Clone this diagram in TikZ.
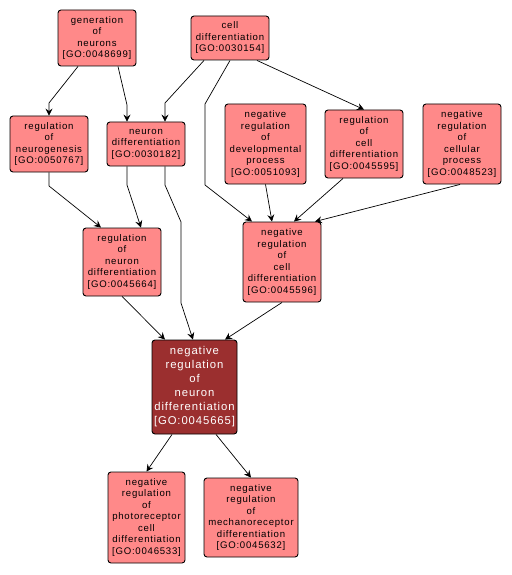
\documentclass[tikz,border=0pt]{standalone}
\usepackage{fontspec}
\setmainfont[LetterSpace=8]{Liberation Sans}
\usetikzlibrary{arrows.meta}
\definecolor{lightfill}{RGB}{255,137,137}
\definecolor{darkfill}{RGB}{155,47,47}
\tikzset{
  term/.style={draw=black, line width=0.9pt, fill=lightfill, rounded corners=3pt,
    align=center, inner sep=0pt, font=\fontsize{9.6}{11.5}\selectfont, text=black},
  focus/.style={draw=black, line width=0.9pt, fill=darkfill, rounded corners=3pt,
    align=center, inner sep=0pt, font=\fontsize{11.3}{14}\selectfont, text=white},
  link/.style={draw=black, line width=0.7pt, -{Stealth[length=7pt,width=7pt,inset=2.5pt]}}
}
\begin{document}
\begin{tikzpicture}[x=1pt,y=-1pt]
\useasboundingbox (0,0) rectangle (511,575);
\node[term, minimum width=78pt, minimum height=56pt] (gen) at (97,38) {generation\\of\\neurons\\{[}GO:0048699{]}};
\node[term, minimum width=78pt, minimum height=44pt] (cd) at (230,38) {cell\\differentiation\\{[}GO:0030154{]}};
\node[term, minimum width=78pt, minimum height=56pt] (rng) at (49,144) {regulation\\of\\neurogenesis\\{[}GO:0050767{]}};
\node[term, minimum width=78pt, minimum height=44pt] (nd) at (146,144) {neuron\\differentiation\\{[}GO:0030182{]}};
\node[term, minimum width=81pt, minimum height=80pt] (nrdp) at (265.5,144) {negative\\regulation\\of\\developmental\\process\\{[}GO:0051093{]}};
\node[term, minimum width=78pt, minimum height=68pt] (rcd) at (364,144) {regulation\\of\\cell\\differentiation\\{[}GO:0045595{]}};
\node[term, minimum width=78pt, minimum height=80pt] (nrcp) at (462,144) {negative\\regulation\\of\\cellular\\process\\{[}GO:0048523{]}};
\node[term, minimum width=78pt, minimum height=68pt] (rnd) at (122,262) {regulation\\of\\neuron\\differentiation\\{[}GO:0045664{]}};
\node[term, minimum width=78pt, minimum height=80pt] (nrcd) at (282,262) {negative\\regulation\\of\\cell\\differentiation\\{[}GO:0045596{]}};
\node[focus, minimum width=85pt, minimum height=94pt] (main) at (194.5,387) {negative\\regulation\\of\\neuron\\differentiation\\{[}GO:0045665{]}};
\node[term, minimum width=77pt, minimum height=91pt] (photo) at (146.5,517.5) {negative\\regulation\\of\\photoreceptor\\cell\\differentiation\\{[}GO:0046533{]}};
\node[term, minimum width=94pt, minimum height=79pt] (mech) at (251,517.5) {negative\\regulation\\of\\mechanoreceptor\\differentiation\\{[}GO:0045632{]}};

\draw[link] ([xshift=-19pt]gen.south) -- (49,103) -- (rng.north);
\draw[link] ([xshift=21pt]gen.south) -- (127,105) -- ([xshift=-19pt]nd.north);
\draw[link] ([xshift=-26pt]cd.south) -- (165,103) -- ([xshift=19pt]nd.north);
\draw[link] ([xshift=27pt]cd.south) -- (rcd.north);
\draw[link] (cd.south) -- (205,104) -- (205,185) -- ([xshift=-30pt]nrcd.north);
\draw[link] (rng.south) -- (49,186) -- ([xshift=-21pt]rnd.north);
\draw[link] ([xshift=-19pt]nd.south) -- (127,185) -- ([xshift=19pt]rnd.north);
\draw[link] ([xshift=19pt]nd.south) -- (165,185) -- (181,222) -- (181,303) -- ([xshift=-1.5pt]main.north);
\draw[link] (nrdp.south) -- ([xshift=-10pt]nrcd.north);
\draw[link] ([xshift=-21pt]rcd.south) -- ([xshift=12pt]nrcd.north);
\draw[link] ([xshift=-2pt]nrcp.south) -- ([xshift=33pt]nrcd.north);
\draw[link] (rnd.south) -- ([xshift=-29.5pt]main.north);
\draw[link] (nrcd.south) -- ([xshift=30.5pt]main.north);
\draw[link] ([xshift=-22.5pt]main.south) -- (photo.north);
\draw[link] ([xshift=21.5pt]main.south) -- (mech.north);
\end{tikzpicture}
\end{document}
